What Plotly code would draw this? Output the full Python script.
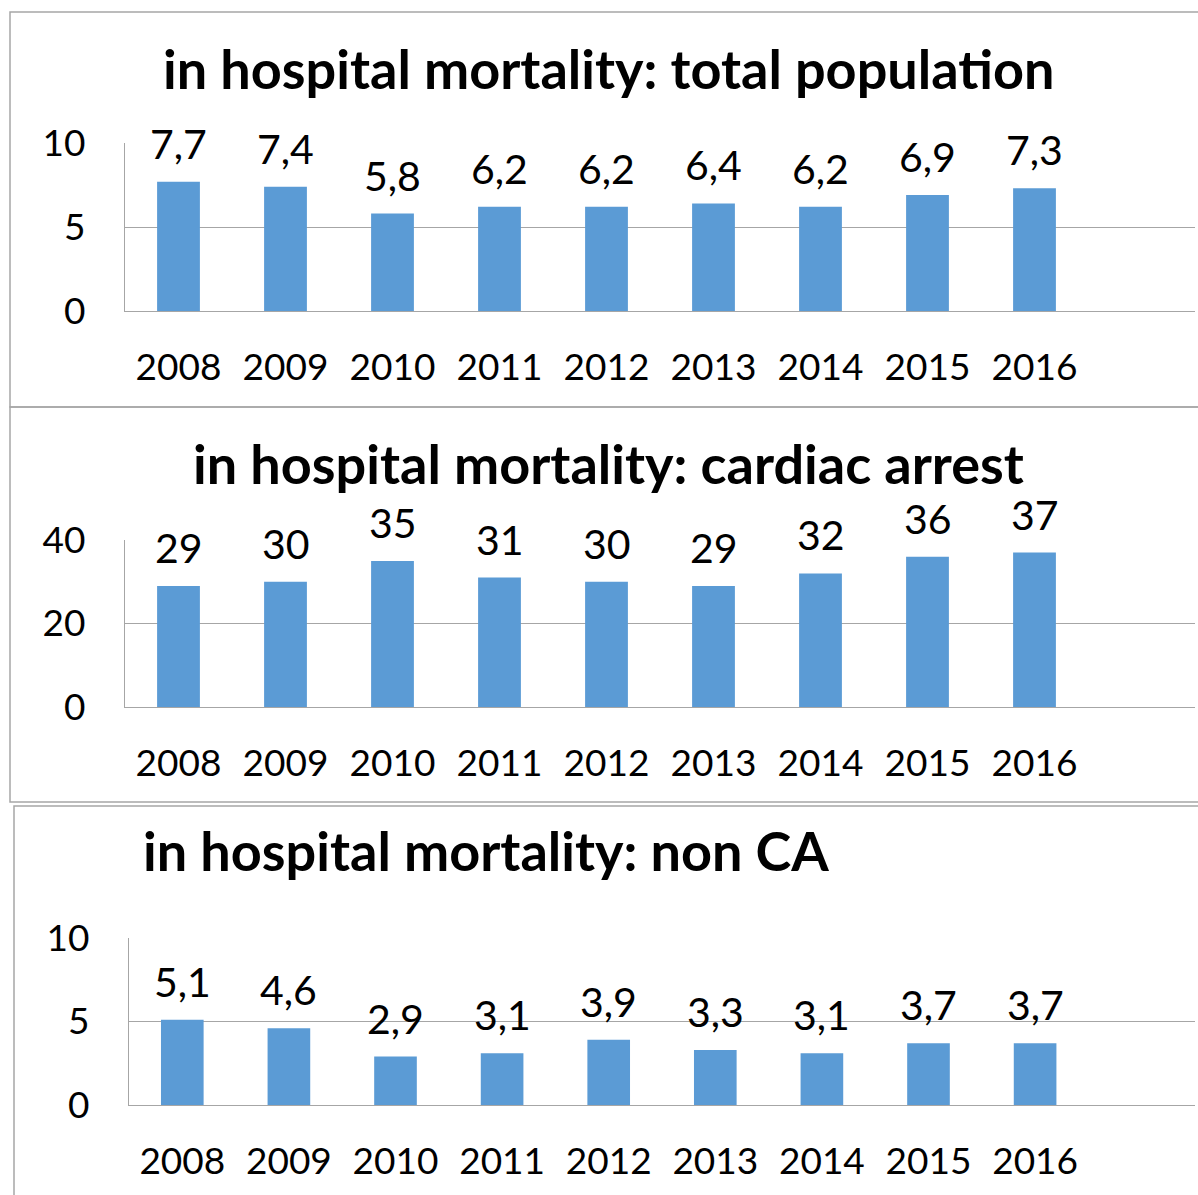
import plotly.graph_objects as go

years = ["2008", "2009", "2010", "2011", "2012", "2013", "2014", "2015", "2016"]
total_population = [7.7, 7.4, 5.8, 6.2, 6.2, 6.4, 6.2, 6.9, 7.3]
cardiac_arrest = [29, 30, 35, 31, 30, 29, 32, 36, 37]
non_ca = [5.1, 4.6, 2.9, 3.1, 3.9, 3.3, 3.1, 3.7, 3.7]
titles = ["in hospital mortality: total population",
          "in hospital mortality: cardiac arrest",
          "in hospital mortality: non CA"]

W, H = 1198, 1195
FONT = "Lato"
BAR = "#5b9bd5"
GRID = "#a6a6a6"

def fmt(v):
    s = ("%g" % v)
    return s.replace(".", ",")

panels = [
    dict(vals=total_population, rng=[0, 10], dtick=5, x0=125, x1=1195, ytop=143, ybot=311, title=titles[0]),
    dict(vals=cardiac_arrest, rng=[0, 40], dtick=20, x0=125, x1=1195, ytop=540, ybot=707, title=titles[1]),
    dict(vals=non_ca, rng=[0, 10], dtick=5, x0=129, x1=1195, ytop=938, ybot=1105, title=titles[2]),
]

fig = go.Figure()
annotations = []
layout = {}
for i, p in enumerate(panels):
    n = "" if i == 0 else str(i + 1)
    xa, ya = "x" + n, "y" + n
    fig.add_trace(go.Bar(x=list(range(len(years))), y=p["vals"], marker_color=BAR,
                         marker_line_width=0, width=0.4, xaxis=xa, yaxis=ya,
                         showlegend=False, hoverinfo="skip"))
    layout["xaxis" + n] = dict(domain=[p["x0"] / W, p["x1"] / W], range=[-0.5, 9.5],
                               tickvals=list(range(len(years))), ticktext=years,
                               showgrid=False, zeroline=False, showline=True, automargin=False,
                               linecolor=GRID, linewidth=1.3, ticks="outside", ticklen=23,
                               tickcolor="rgba(0,0,0,0)", anchor=ya,
                               tickfont=dict(family=FONT, size=37, color="black"),
                               fixedrange=True)
    layout["yaxis" + n] = dict(domain=[(H - p["ybot"]) / H, (H - p["ytop"]) / H], range=p["rng"],
                               dtick=p["dtick"], showgrid=True, gridcolor=GRID, gridwidth=1.3,
                               zeroline=False, showline=True, linecolor=GRID, linewidth=1.3,
                               ticks="outside", ticklen=31, tickcolor="rgba(0,0,0,0)", automargin=False,
                               anchor=xa, tickfont=dict(family=FONT, size=37, color="black"),
                               fixedrange=True)
    for j, v in enumerate(p["vals"]):
        annotations.append(dict(x=j, y=v, xref=xa, yref=ya, text=fmt(v), showarrow=False,
                                yanchor="bottom", yshift=13, borderpad=0,
                                font=dict(family=FONT, size=41, color="black")))

annotations.append(dict(x=608 / W, y=1 - 68 / H, xref="paper", yref="paper", text="<b>%s</b>" % titles[0],
                        showarrow=False, xanchor="center", yanchor="middle", borderpad=0,
                        font=dict(family=FONT, size=54, color="black")))
annotations.append(dict(x=608 / W, y=1 - 463 / H, xref="paper", yref="paper", text="<b>%s</b>" % titles[1],
                        showarrow=False, xanchor="center", yanchor="middle", borderpad=0,
                        font=dict(family=FONT, size=54, color="black")))
annotations.append(dict(x=142 / W, y=1 - 850 / H, xref="paper", yref="paper", text="<b>%s</b>" % titles[2],
                        showarrow=False, xanchor="left", yanchor="middle", borderpad=0,
                        font=dict(family=FONT, size=54, color="black")))

shapes = [
    dict(type="rect", xref="paper", yref="paper", x0=10 / W, x1=1.01, y0=1 - 407 / H, y1=1 - 12 / H,
         line=dict(color=GRID, width=1.5)),
    dict(type="rect", xref="paper", yref="paper", x0=10 / W, x1=1.01, y0=1 - 802 / H, y1=1 - 407 / H,
         line=dict(color=GRID, width=1.5)),
    dict(type="rect", xref="paper", yref="paper", x0=14 / W, x1=1.01, y0=-0.01, y1=1 - 806 / H,
         line=dict(color=GRID, width=1.5)),
]

fig.update_layout(width=W, height=H, margin=dict(l=0, r=0, t=0, b=0, autoexpand=False),
                  paper_bgcolor="white", plot_bgcolor="white",
                  annotations=annotations, shapes=shapes, bargap=0.6, **layout)
fig.write_html("out.html", config={"displayModeBar": False},
               post_script="document.body.style.margin='0';document.body.style.overflow='hidden';")
